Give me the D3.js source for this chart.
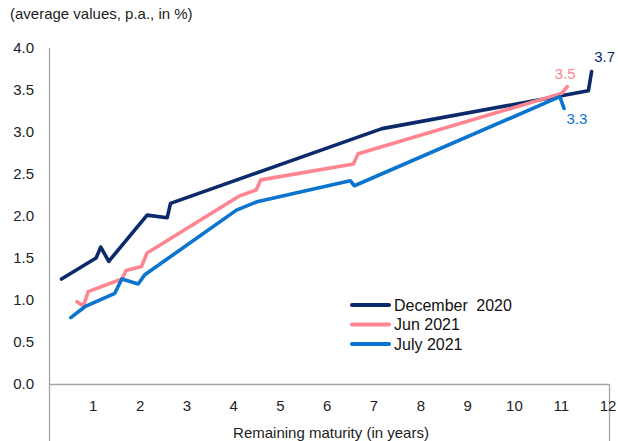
<!DOCTYPE html>
<html>
<head>
<meta charset="utf-8">
<script src="https://cdn.jsdelivr.net/npm/d3@7"></script>
<style>
  body { margin: 0; background: #fff; }
  svg { display: block; font-family: "Liberation Sans", Arial, sans-serif; }
</style>
</head>
<body>
<svg id="chart" width="618" height="441"></svg>
<script>
'use strict';

// data: [remaining maturity in years, yield in %]
var dec2020 = [[0.32, 1.25], [1.06, 1.50], [1.16, 1.63], [1.33, 1.46], [2.15, 2.01],
	[2.58, 1.98], [2.65, 2.15], [7.17, 3.04], [11.58, 3.49], [11.65, 3.72]];
var jun2021 = [[0.65, 0.98], [0.79, 0.93], [0.89, 1.10], [1.61, 1.25], [1.70, 1.35],
	[2.03, 1.40], [2.15, 1.56], [4.13, 2.24], [4.48, 2.31], [4.58, 2.43],
	[6.56, 2.62], [6.66, 2.74], [11.01, 3.46], [11.13, 3.54]];
var jul2021 = [[0.52, 0.79], [0.82, 0.92], [1.46, 1.08], [1.61, 1.25], [1.96, 1.19],
	[2.10, 1.30], [4.06, 2.07], [4.50, 2.17], [6.49, 2.42], [6.58, 2.36],
	[10.97, 3.42], [11.06, 3.28]];

var seriesNames = ['December 2020', 'Jun 2021', 'July 2021'];
var endLabels = ['3.7', '3.5', '3.3'];
var xTicks = [1, 2, 3, 4, 5, 6, 7, 8, 9, 10, 11, 12];
var yTicks = [0, 0.5, 1, 1.5, 2, 2.5, 3, 3.5, 4];

var colors = ['#0b2a6b', '#ff8591', '#0b74cf'];
var series = [dec2020, jun2021, jul2021];

var svg = d3.select('#chart');

var x = d3.scaleLinear().domain([0, 12]).range([46.5, 608]);
var y = d3.scaleLinear().domain([0, 4]).range([384, 48]);

//title
svg.append('text')
	.attr('x', 10).attr('y', 19)
	.attr('font-size', 15).attr('fill', '#222')
	.text('(average values, p.a., in %)');

//frame lines
var grey = '#a6a6a6';
svg.append('line').attr('x1', 49.5).attr('x2', 49.5).attr('y1', 48).attr('y2', 441)
	.attr('stroke', grey).attr('stroke-width', 1.3);
svg.append('line').attr('x1', 49).attr('x2', 609.5).attr('y1', 384.5).attr('y2', 384.5)
	.attr('stroke', grey).attr('stroke-width', 1.3);
svg.append('line').attr('x1', 609.5).attr('x2', 609.5).attr('y1', 384).attr('y2', 441)
	.attr('stroke', grey).attr('stroke-width', 1.3);

//y tick labels
svg.append('g').selectAll('text').data(yTicks).join('text')
	.attr('x', 34)
	.attr('y', function(d) { return y(d) + 5; })
	.attr('text-anchor', 'end')
	.attr('font-size', 15).attr('fill', '#222')
	.text(function(d) { return d3.format('.1f')(d); });

//x tick labels
svg.append('g').selectAll('text').data(xTicks).join('text')
	.attr('x', function(d) { return x(d); })
	.attr('y', 411)
	.attr('text-anchor', 'middle')
	.attr('font-size', 15).attr('fill', '#222')
	.text(function(d) { return d; });

svg.append('text')
	.attr('x', 331).attr('y', 438)
	.attr('text-anchor', 'middle')
	.attr('font-size', 15).attr('fill', '#222')
	.text('Remaining maturity (in years)');

//lines
var line = d3.line()
	.x(function(d) { return x(d[0]); })
	.y(function(d) { return y(d[1]); });

series.forEach(function(s, i) {
	svg.append('path')
		.datum(s)
		.attr('d', line)
		.attr('fill', 'none')
		.attr('stroke', colors[i])
		.attr('stroke-width', 3.6)
		.attr('stroke-linejoin', 'round')
		.attr('stroke-linecap', 'round');
});

//end labels
var labelOffsets = [[13, -10], [-2, -8], [13, 16]];
series.forEach(function(s, i) {
	var last = s[s.length - 1];
	svg.append('text')
		.attr('x', x(last[0]) + labelOffsets[i][0])
		.attr('y', y(last[1]) + labelOffsets[i][1])
		.attr('text-anchor', 'middle')
		.attr('font-size', 15)
		.attr('fill', colors[i])
		.text(endLabels[i]);
});

//legend
var legend = svg.append('g').attr('transform', 'translate(352,305)');
seriesNames.forEach(function(name, i) {
	var row = legend.append('g').attr('transform', 'translate(0,' + (i * 19.5) + ')');
	row.append('line')
		.attr('x1', 0).attr('x2', 37)
		.attr('stroke', colors[i]).attr('stroke-width', 4)
		.attr('stroke-linecap', 'round');
	row.append('text')
		.attr('x', 42).attr('y', 5.5)
		.attr('font-size', 16).attr('fill', '#111')
		.attr('word-spacing', i === 0 ? 4 : 0)
		.text(name);
});
</script>
</body>
</html>
